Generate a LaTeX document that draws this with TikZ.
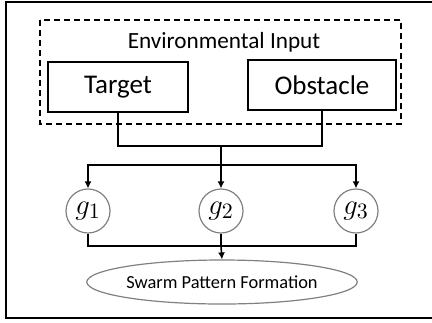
\documentclass[tikz,border=0pt]{standalone}
\usepackage{fontspec}
\setmainfont{Carlito}
\usetikzlibrary{arrows.meta,shapes.geometric}

\tikzset{
    inputbox/.style={draw, line width=0.8pt, minimum width=70pt, minimum height=25pt, font=\fontsize{13.5}{16}\selectfont},
    gainnode/.style={draw=gray, circle, line width=0.6pt, minimum size=22pt, inner sep=0pt, font=\fontsize{15}{17}\selectfont},
    link/.style={line width=0.8pt},
    feed/.style={line width=0.8pt, -{Latex[length=3.5pt,width=3.5pt]}}
}

\begin{document}
\begin{tikzpicture}[x=0.5pt, y=-0.5pt]
        \useasboundingbox (0,0) rectangle (432,322);

        % Outer frame
        \draw[line width=1.1pt] (432,2) -| (6,318) -- (432,318);

        % Environmental input
        \draw[line width=0.8pt, dash pattern=on 3pt off 2pt] (40,20) rectangle (401,124);
        \node[font=\fontsize{11.6}{14}\selectfont] (envtitle) at (224,42) {Environmental Input};
        \node[inputbox] (target) at (118,87) {Target};
        \node[inputbox, minimum width=74pt] (obstacle) at (322,85) {Obstacle};

        % Gain nodes
        \node[gainnode] (g1) at (88,211) {$g_1$};
        \node[gainnode] (g2) at (221,211) {$g_2$};
        \node[gainnode] (g3) at (356,211) {$g_3$};

        % Output
        \node[draw=gray, ellipse, line width=0.6pt, minimum width=135pt, minimum height=22pt, inner sep=0pt, font=\fontsize{9.2}{11}\selectfont] (swarm) at (222,282) {Swarm Pattern Formation};

        % Connect nodes
        \coordinate (join) at (221,146);
        \coordinate (split) at (221,165);
        \coordinate (merge) at (221,246);

        \draw[link] (target.south) |- (join) -| (obstacle.south);
        \draw[link] (join) -- (split);
        \draw[feed] (split) -| (g1.north);
        \draw[feed] (split) -- (g2.north);
        \draw[feed] (split) -| (g3.north);

        \draw[link] (g1.south) |- (merge) -| (g3.south);
        \draw[link] (g2.south) -- (merge);
        \draw[feed] (merge) -- (swarm.north);
    \end{tikzpicture}
\end{document}
